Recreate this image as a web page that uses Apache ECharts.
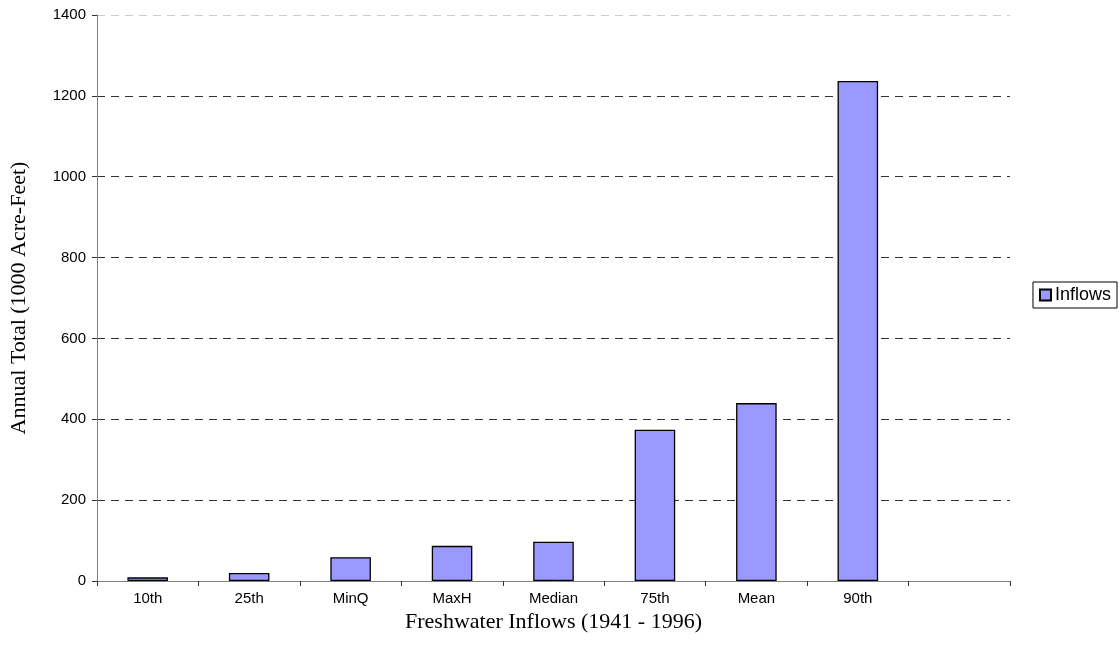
<!DOCTYPE html>
<html><head><meta charset="utf-8">
<script src="https://cdn.jsdelivr.net/npm/echarts@6/dist/echarts.min.js"></script>
<style>html,body{margin:0;padding:0;background:#fff}#c{width:1120px;height:661px}</style>
</head><body><div id="c"></div>
<script>
const categories = ['10th','25th','MinQ','MaxH','Median','75th','Mean','90th',''];
const inflows = [9, 20, 59, 87, 97, 374, 440, 1237, '-'];
const yTicks = [0,200,400,600,800,1000,1200,1400];

const chart = echarts.init(document.getElementById('c'), null, {renderer:'canvas'});
chart.setOption({
  animation:false,
  backgroundColor:'#fff',
  grid:{left:97,right:110,top:15,bottom:80,containLabel:false},
  legend:{
    data:['Inflows'], orient:'vertical', right:3, top:282,
    icon:'rect', itemWidth:11, itemHeight:11, itemGap:0, padding:[4,6,4,6],
    borderColor:'#000', borderWidth:1,
    textStyle:{fontFamily:'Liberation Sans, Arial, sans-serif', fontSize:18, color:'#000', padding:[0,0,0,-1]}
  },
  xAxis:{
    type:'category', data:categories, boundaryGap:true,
    name:'Freshwater Inflows (1941 - 1996)', nameLocation:'middle', nameGap:29,
    nameTextStyle:{fontFamily:'Liberation Serif, Times New Roman, serif', fontSize:22, color:'#000'},
    axisLine:{lineStyle:{color:'#808080', width:1}},
    axisTick:{show:true, alignWithLabel:false, length:5, lineStyle:{color:'#333'}},
    axisLabel:{fontFamily:'Liberation Sans, Arial, sans-serif', fontSize:15, color:'#000', margin:10},
    splitLine:{show:false}
  },
  yAxis:{
    type:'value', min:0, max:1400, interval:200,
    name:'Annual Total (1000 Acre-Feet)', nameLocation:'middle', nameGap:67,
    nameTextStyle:{fontFamily:'Liberation Serif, Times New Roman, serif', fontSize:22, color:'#000'},
    axisLine:{show:true, lineStyle:{color:'#808080', width:1}},
    axisTick:{show:true, length:5, lineStyle:{color:'#333'}},
    axisLabel:{fontFamily:'Liberation Sans, Arial, sans-serif', fontSize:15, color:'#000', margin:11,
      formatter:v=> yTicks.includes(v) ? String(v) : ''},
    splitLine:{show:true, lineStyle:{type:[8,6], width:1,
      color:['#000','#333','#333','#333','#333','#333','#333','#ccc']}}
  },
  series:[{
    name:'Inflows', type:'bar', data:inflows, barCategoryGap:'60%',
    itemStyle:{color:'#9999ff', borderColor:'#000', borderWidth:1.3}
  }]
});
</script></body></html>
